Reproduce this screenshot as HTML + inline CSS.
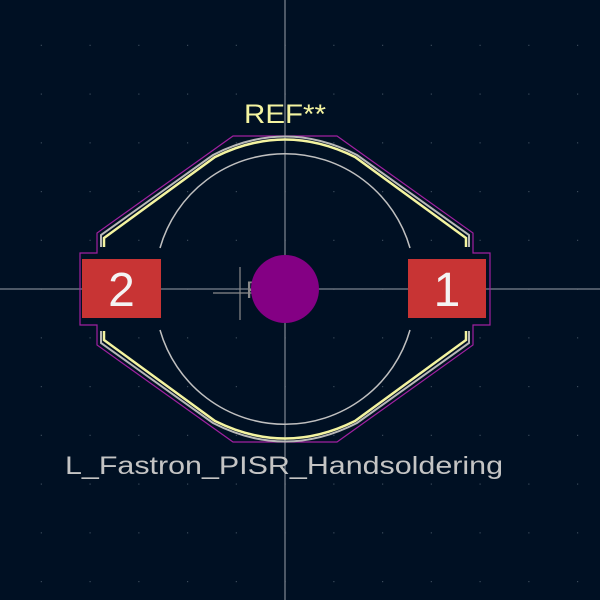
<!DOCTYPE html>
<html><head><meta charset="utf-8"><style>
html,body{margin:0;padding:0;background:#001023;width:600px;height:600px;overflow:hidden;}
svg{display:block;}
</style></head><body>
<svg width="600" height="600" viewBox="0 0 600 600" font-family="Liberation Sans, sans-serif">
<rect width="600" height="600" fill="#001023"/>
<g id="grid"></g>
<line x1="285" y1="0" x2="285" y2="600" stroke="#9aa0a8" stroke-width="1"/>
<line x1="0" y1="289" x2="600" y2="289" stroke="#9aa0a8" stroke-width="1"/>
<path d="M97,233 L97,253 L80,253 L80,325 L97,325 L97,345 L233,442 L337,442 L473,345 L473,325 L490,325 L490,253 L473,253 L473,233 L337,136 L233,136 Z" fill="none" stroke="#a020a0" stroke-width="1.2"/>
<g fill="none" stroke="#b8b8b8" stroke-width="2">
<path d="M101,247 L101,235 L213,155 Q285,118 357,155 L469,235 L469,247"/>
<path d="M101,331 L101,343 L213,423 Q285,460 357,423 L469,343 L469,331"/>
</g>
<g fill="none" stroke="#f4f4a0" stroke-width="2.5">
<path d="M104,247 L104,238 L215,157 Q285,122 355,157 L466,238 L466,247"/>
<path d="M104,331 L104,340 L215,421 Q285,456 355,421 L466,340 L466,331"/>
</g>
<g fill="none" stroke="#c0c0c0" stroke-width="1.5">
<path d="M160,248 A130,130 0 0 1 410,248"/>
<path d="M160,330 A130,130 0 0 0 410,330"/>
</g>
<text x="246" y="298" font-size="24" fill="#8a8a8a">REF**</text>
<line x1="213" y1="293" x2="267" y2="293" stroke="#8a8a8a" stroke-width="1.2"/>
<line x1="240" y1="267" x2="240" y2="320" stroke="#8a8a8a" stroke-width="1.2"/>
<rect x="82" y="259" width="79" height="59" fill="#c83434"/>
<text x="121.5" y="306" font-size="48" fill="#f4f4f4" text-anchor="middle">2</text>
<rect x="408" y="259" width="78" height="59" fill="#c83434"/>
<text x="447" y="306" font-size="48" fill="#f4f4f4" text-anchor="middle">1</text>
<circle cx="285" cy="289" r="34" fill="#840084"/>
<text x="285" y="123" font-size="27" fill="#f4f4a0" text-anchor="middle" textLength="82" lengthAdjust="spacingAndGlyphs">REF**</text>
<text x="284" y="474" font-size="25" fill="#c4c4c4" text-anchor="middle" textLength="438" lengthAdjust="spacingAndGlyphs">L_Fastron_PISR_Handsoldering</text>
</svg>
<script>
const g=document.getElementById('grid');
for(let i=-5;i<=6;i++)for(let j=-5;j<=6;j++){
const c=document.createElementNS('http://www.w3.org/2000/svg','rect');
c.setAttribute('x',285+i*48.75-0.5);c.setAttribute('y',289+j*48.75-0.5);
c.setAttribute('width',1.2);c.setAttribute('height',1.2);c.setAttribute('fill','#3a4a5a');


g.appendChild(c);}
</script>
</body></html>
